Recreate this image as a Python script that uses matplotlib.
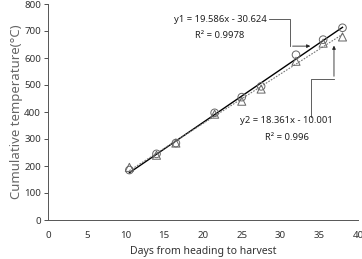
import matplotlib.pyplot as plt

days = [10.5, 14, 16.5, 21.5, 25, 27.5, 32, 35.5, 38]
temp1 = [185, 245, 285, 397, 455, 495, 612, 668, 712]
temp2 = [195, 240, 285, 392, 440, 485, 588, 655, 678]
x_ticks = [0, 5, 10, 15, 20, 25, 30, 35, 40]
y_ticks = [0, 100, 200, 300, 400, 500, 600, 700, 800]


def fit(x, a, b):
    return [a * v + b for v in x]


def main():
    plt.rcParams['font.family'] = ['Noto Sans', 'DejaVu Sans']
    fig = plt.figure(figsize=(3.62, 2.59), dpi=100)
    ax = fig.add_axes([48 / 362, 39 / 259, 310 / 362, 216 / 259])

    ends = [days[0], days[-1]]
    ax.plot(ends, fit(ends, 19.586, -30.624), color='black', lw=1.0, zorder=2)
    ax.plot(ends, fit(ends, 18.361, -10.001), color='#777777', lw=0.8,
            ls=(0, (1.5, 1.2)), zorder=2)
    ax.scatter(days, temp1, marker='o', s=30, facecolors='none',
               edgecolors='#666666', linewidths=0.7, zorder=3)
    ax.scatter(days, temp2, marker='^', s=34, facecolors='none',
               edgecolors='#666666', linewidths=0.7, zorder=3)

    ax.set_xlim(0, 40)
    ax.set_ylim(0, 800)
    ax.set_xticks(x_ticks)
    ax.set_yticks(y_ticks)
    ax.tick_params(axis='x', length=0, labelsize=7, colors='#333333', pad=8)
    ax.tick_params(axis='y', length=3, width=0.6, labelsize=7, colors='#333333',
                   pad=2)
    for s in ['top', 'right']:
        ax.spines[s].set_visible(False)
    for s in ['left', 'bottom']:
        ax.spines[s].set_color('#555555')
        ax.spines[s].set_linewidth(0.7)
    ax.set_xlabel("Days from heading to harvest", fontsize=7.5, color='#333333',
                  labelpad=4)
    ax.set_ylabel("Cumulative temperature(°C)", fontsize=9.5, color='#666666',
                  labelpad=1)

    # equation labels with callout lines
    ax.text(22.2, 744, "y1 = 19.586x - 30.624", fontsize=6.8, ha='center',
            va='center', color='#222222')
    ax.text(22.2, 685, "R² = 0.9978", fontsize=6.8, ha='center', va='center',
            color='#222222')
    ax.plot([28.5, 31.2, 31.2], [744, 744, 644], color='#444444', lw=0.6)
    ax.annotate("", xy=(34.2, 644), xytext=(31.2, 644),
                arrowprops=dict(arrowstyle='-|>', color='#222222', lw=0.6,
                                mutation_scale=5))

    ax.text(30.8, 367, "y2 = 18.361x - 10.001", fontsize=6.8, ha='center',
            va='center', color='#222222')
    ax.text(30.8, 307, "R² = 0.996", fontsize=6.8, ha='center', va='center',
            color='#222222')
    ax.plot([33.9, 33.9, 36.9], [380, 522, 522], color='#444444', lw=0.6)
    ax.annotate("", xy=(36.9, 656), xytext=(36.9, 522),
                arrowprops=dict(arrowstyle='-|>', color='#222222', lw=0.6,
                                mutation_scale=5))

    fig.savefig("out.png", dpi=100)


main()
